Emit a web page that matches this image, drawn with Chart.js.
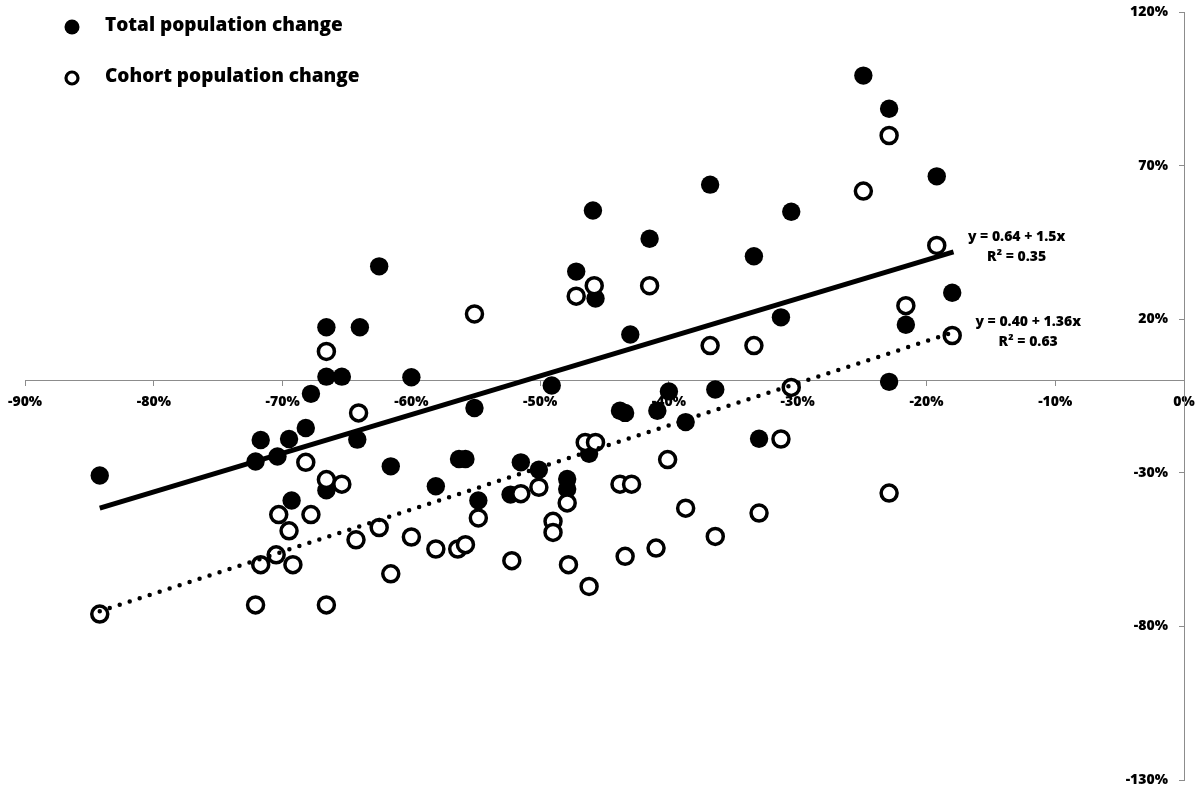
<!DOCTYPE html>
<html>
<head>
<meta charset="utf-8">
<script src="https://cdn.jsdelivr.net/npm/chart.js@4/dist/chart.umd.min.js"></script>
<style>
  body { margin: 0; background: #fff; }
  #wrap { width: 1204px; height: 794px; }
</style>
</head>
<body>
<div id="wrap"><canvas id="chart" width="1204" height="794"></canvas></div>
<script>
// values in percent
const totalX = [-84.2, -72.1, -71.7, -70.4, -69.5, -68.2, -69.3, -67.8, -66.6, -66.6, -65.4, -64.0, -64.2, -66.6, -62.5, -60.0, -61.6, -58.1, -55.1, -56.3, -55.8, -54.8, -51.5, -50.1, -52.3, -49.1, -47.9, -47.9, -46.2, -47.2, -45.7, -43.8, -43.4, -43.0, -33.4, -31.3, -18.0, -21.6, -22.9, -40.0, -36.4, -40.9, -38.7, -33.0, -24.9, -22.9, -19.2, -36.8, -30.5, -45.9, -41.5];
const totalY = [-30.9, -26.3, -19.3, -24.7, -19.0, -15.4, -39.0, -4.3, 17.4, 1.3, 1.3, 17.4, -19.2, -35.7, 37.2, 1.1, -27.9, -34.4, -8.9, -25.5, -25.5, -39.0, -26.6, -29.0, -37.1, -1.6, -32.0, -35.3, -23.8, 35.5, 26.7, -9.8, -10.5, 15.0, 40.5, 20.6, 28.6, 18.2, -0.4, -3.5, -2.9, -9.8, -13.5, -18.9, 99.3, 88.5, 66.5, 63.8, 55.0, 55.4, 46.2];

const cohortX = [-84.2, -72.1, -66.6, -71.7, -70.5, -69.2, -69.5, -70.3, -67.8, -68.2, -66.6, -65.4, -66.6, -64.1, -64.3, -55.1, -62.5, -60.0, -61.6, -58.1, -56.4, -55.8, -54.8, -52.2, -51.5, -50.1, -49.0, -49.0, -47.9, -47.8, -46.2, -47.2, -45.8, -46.5, -45.7, -43.8, -42.9, -43.4, -41.5, -36.8, -33.4, -21.6, -18.0, -30.5, -31.3, -40.1, -38.7, -33.0, -22.9, -36.4, -41.0, -22.9, -24.9, -19.2];
const cohortY = [-76.0, -73.0, -73.0, -59.9, -56.7, -59.9, -48.9, -43.6, -43.6, -26.6, -32.2, -33.7, 9.5, -10.5, -51.8, 21.7, -47.8, -50.9, -62.9, -54.8, -54.8, -53.4, -44.7, -58.6, -36.8, -34.7, -45.8, -49.4, -39.8, -59.9, -67.0, 27.5, 30.9, -20.1, -20.1, -33.7, -33.7, -57.2, 30.9, 11.4, 11.4, 24.4, 14.7, -2.2, -19.0, -25.7, -41.5, -43.1, -36.6, -50.7, -54.5, 79.8, 61.7, 44.0];

// trend line end points
const totalTrendX = [-84.2, -17.9];
const totalTrendY = [-41.5, 41.9];
const cohortTrendX = [-84.2, -18.0];
const cohortTrendY = [-75.1, 15.6];

const seriesLabels = ['Total population change', 'Cohort population change'];
const totalTrendText = ['y = 0.64 + 1.5x', 'R\u00B2 = 0.35'];
const cohortTrendText = ['y = 0.40 + 1.36x', 'R\u00B2 = 0.63'];

const yTickValues = [-130, -80, -30, 20, 70, 120];

const FONT = '"Open Sans", "Noto Sans", sans-serif';

function toPoints(xs, ys) {
  return xs.map((x, i) => ({ x: x, y: ys[i] }));
}

// legend and trend equations drawn on the canvas
const annotations = {
  id: 'annotations',
  afterDraw(chart) {
    const ctx = chart.ctx;
    const xs = chart.scales.x;
    const ys = chart.scales.y;
    ctx.save();

    // legend
    ctx.fillStyle = '#000';
    ctx.font = '800 19px ' + FONT;
    ctx.textBaseline = 'middle';
    ctx.textAlign = 'left';
    ctx.beginPath();
    ctx.arc(72, 27, 7.5, 0, Math.PI * 2);
    ctx.fill();
    ctx.fillText(seriesLabels[0], 105, 26);

    ctx.beginPath();
    ctx.arc(72, 78, 6, 0, Math.PI * 2);
    ctx.lineWidth = 3.2;
    ctx.strokeStyle = '#000';
    ctx.stroke();
    ctx.fillText(seriesLabels[1], 105, 77);

    // equations
    ctx.font = '800 14px ' + FONT;
    ctx.textAlign = 'center';
    ctx.fillText(totalTrendText[0], xs.getPixelForValue(-13.0), ys.getPixelForValue(46.6));
    ctx.fillText(totalTrendText[1], xs.getPixelForValue(-13.0), ys.getPixelForValue(40.1));
    ctx.fillText(cohortTrendText[0], xs.getPixelForValue(-12.1), ys.getPixelForValue(19.2));
    ctx.fillText(cohortTrendText[1], xs.getPixelForValue(-12.1), ys.getPixelForValue(12.7));
    ctx.restore();
  }
};

const ctx = document.getElementById('chart');
new Chart(ctx, {
  type: 'scatter',
  data: {
    datasets: [
      {
        label: 'Total trend',
        data: toPoints(totalTrendX, totalTrendY),
        showLine: true,
        borderColor: '#000',
        borderWidth: 5,
        pointRadius: 0
      },
      {
        label: 'Cohort trend',
        data: toPoints(cohortTrendX, cohortTrendY),
        showLine: true,
        borderColor: '#000',
        borderWidth: 4.5,
        borderDash: [0, 10.5],
        borderCapStyle: 'round',
        pointRadius: 0
      },
      {
        label: seriesLabels[1],
        data: toPoints(cohortX, cohortY),
        pointRadius: 8,
        pointBorderWidth: 3.5,
        pointBorderColor: '#000',
        pointBackgroundColor: '#fff'
      },
      {
        label: seriesLabels[0],
        data: toPoints(totalX, totalY),
        pointRadius: 9.2,
        pointBorderWidth: 0,
        pointBackgroundColor: '#000'
      }
    ]
  },
  options: {
    responsive: false,
    animation: false,
    layout: { padding: { left: 24, right: 20, top: 12, bottom: 14 } },
    plugins: {
      legend: { display: false },
      tooltip: { enabled: false }
    },
    scales: {
      x: {
        type: 'linear',
        min: -90,
        max: 0,
        position: { y: 0 },
        afterFit(scale) { scale.height = 0; },
        grid: { display: true, drawOnChartArea: false, tickLength: 5, color: '#8c8c8c' },
        border: { display: true, color: '#8c8c8c', width: 1 },
        ticks: {
          stepSize: 10,
          padding: 8,
          color: '#000',
          font: { family: FONT, size: 14, weight: '800' },
          callback: v => v + '%'
        }
      },
      y: {
        type: 'linear',
        min: -130,
        max: 120,
        position: 'right',
        afterFit(scale) { scale.width = 0; },
        afterBuildTicks(scale) {
          scale.ticks = yTickValues.map(v => ({ value: v }));
        },
        grid: { display: true, drawOnChartArea: false, tickLength: -5, color: '#8c8c8c' },
        border: { display: true, color: '#8c8c8c', width: 1 },
        ticks: {
          mirror: true,
          padding: -16,
          color: '#000',
          font: { family: FONT, size: 14, weight: '800' },
          callback: v => v + '%'
        }
      }
    }
  },
  plugins: [annotations]
});
</script>
</body>
</html>
